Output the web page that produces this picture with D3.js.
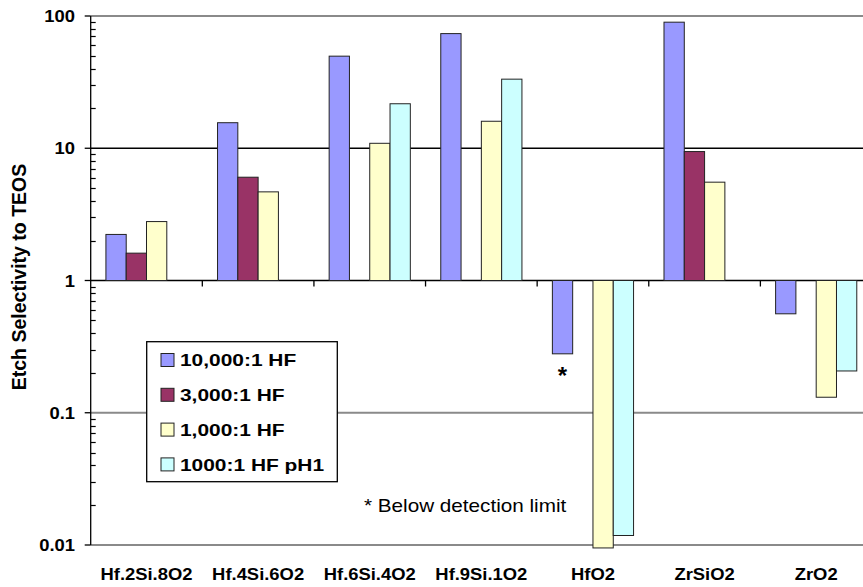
<!DOCTYPE html>
<html>
<head>
<meta charset="utf-8">
<script src="https://cdn.jsdelivr.net/npm/d3@7"></script>
<style>
  body { margin: 0; background: #fff; }
  svg { display: block; font-family: "Liberation Sans", Arial, sans-serif; }
</style>
</head>
<body>
<svg width="863" height="587"></svg>
<script>
// categories and series
const categories = ["Hf.2Si.8O2", "Hf.4Si.6O2", "Hf.6Si.4O2", "Hf.9Si.1O2", "HfO2", "ZrSiO2", "ZrO2"];
const seriesNames = ["10,000:1 HF", "3,000:1 HF", "1,000:1 HF", "1000:1 HF pH1"];
const seriesColors = ["#9999FF", "#993366", "#FFFFCC", "#CCFFFF"];

// values (null = no bar)
const hf10000 = [2.23, 15.6, 49.7, 73.6, 0.279, 89.8, 0.56];
const hf3000  = [1.61, 6.04, null, null, null, 9.44, null];
const hf1000  = [2.79, 4.68, 10.9, 16.0, 0.0095, 5.54, 0.131];
const hf1000pH1 = [null, null, 21.7, 33.3, 0.0118, null, 0.207];

const yTicks = [100, 10, 1, 0.1, 0.01];
const yTickLabels = ["100", "10", "1", "0.1", "0.01"];

const allSeries = [hf10000, hf3000, hf1000, hf1000pH1];

const svg = d3.select("svg");
const plotLeft = 90.7, plotRight = 872, plotTop = 16, plotBottom = 545;
const sx = 1.15; // horizontal stretch of the original text

const x = d3.scaleBand().domain(categories).range([plotLeft, plotRight]);
const xs = d3.scaleBand().domain(d3.range(4)).range([0, x.bandwidth()]).paddingOuter(0.75);
const y = d3.scaleLog().domain([0.01, 100]).range([plotBottom, plotTop]);

// gridlines
const gridColor = {100: "#8a8a8a", 10: "#000", 1: "#000", 0.1: "#8a8a8a", 0.01: "#8a8a8a"};
svg.append("g").selectAll("line").data(yTicks).join("line")
  .attr("x1", plotLeft).attr("x2", 863)
  .attr("y1", d => y(d)).attr("y2", d => y(d))
  .attr("stroke", d => gridColor[d])
  .attr("stroke-width", d => gridColor[d] === "#000" ? 1.3 : 2);

// bars
const bars = svg.append("g");
allSeries.forEach((vals, si) => {
  bars.selectAll(null).data(vals.map((v, i) => ({v, c: categories[i]})).filter(d => d.v != null))
    .join("rect")
    .attr("x", d => x(d.c) + xs(si))
    .attr("width", xs.bandwidth())
    .attr("y", d => Math.min(y(d.v), y(1)))
    .attr("height", d => Math.abs(y(d.v) - y(1)))
    .attr("fill", seriesColors[si])
    .attr("stroke", "#222")
    .attr("stroke-width", 1);
});

// y axis line
svg.append("line").attr("x1", plotLeft).attr("x2", plotLeft).attr("y1", plotTop).attr("y2", plotBottom)
  .attr("stroke", "#000").attr("stroke-width", 1.3);

// major ticks (outside) and minor ticks (inside)
svg.append("g").selectAll("line").data(yTicks).join("line")
  .attr("x1", plotLeft - 6).attr("x2", plotLeft)
  .attr("y1", d => y(d)).attr("y2", d => y(d))
  .attr("stroke", "#000").attr("stroke-width", 1.3);

const minor = y.ticks().filter(d => !yTicks.some(t => Math.abs(t - d) / t < 1e-6));
svg.append("g").selectAll("line").data(minor).join("line")
  .attr("x1", plotLeft).attr("x2", plotLeft + 5)
  .attr("y1", d => Math.round(y(d)) + 0.5).attr("y2", d => Math.round(y(d)) + 0.5)
  .attr("stroke", "#000").attr("stroke-width", 1.2);

// category ticks on the base line at 1
svg.append("g").selectAll("line").data(categories.slice(1)).join("line")
  .attr("x1", d => x(d)).attr("x2", d => x(d))
  .attr("y1", y(1)).attr("y2", y(1) + 6)
  .attr("stroke", "#000").attr("stroke-width", 1.3);

// y tick labels
svg.append("g").selectAll("text").data(yTicks).join("text")
  .attr("transform", d => `translate(75,${y(d) + 6}) scale(${sx},1)`)
  .attr("text-anchor", "end")
  .attr("font-size", 16).attr("font-weight", "bold")
  .text((d, i) => yTickLabels[i]);

// x labels
svg.append("g").selectAll("text").data(categories).join("text")
  .attr("transform", d => `translate(${x(d) + x.bandwidth() / 2},580) scale(${sx},1)`)
  .attr("text-anchor", "middle")
  .attr("font-size", 16).attr("font-weight", "bold")
  .text(d => d);

// y axis title
svg.append("text")
  .attr("transform", "translate(26,277) rotate(-90)")
  .attr("text-anchor", "middle")
  .attr("font-size", 19.5).attr("font-weight", "bold")
  .text("Etch Selectivity to TEOS");

// asterisk under HfO2 10,000:1 bar
svg.append("text")
  .attr("x", x("HfO2") + xs(0) + xs.bandwidth() / 2)
  .attr("y", y(hf10000[4]) + 30)
  .attr("text-anchor", "middle")
  .attr("font-size", 24).attr("font-weight", "bold")
  .text("*");

// note
svg.append("text")
  .attr("transform", `translate(364,511.5) scale(${sx},1)`)
  .attr("font-size", 18)
  .text("* Below detection limit");

// legend
const lg = svg.append("g");
lg.append("rect").attr("x", 146.7).attr("y", 341.7).attr("width", 190.6).attr("height", 140)
  .attr("fill", "#fff").attr("stroke", "#000").attr("stroke-width", 1.3);
const item = lg.selectAll("g").data(seriesNames).join("g")
  .attr("transform", (d, i) => `translate(161,${360 + i * 34.8})`);
item.append("rect").attr("x", 0).attr("y", -6.5).attr("width", 13).attr("height", 13)
  .attr("fill", (d, i) => seriesColors[i]).attr("stroke", "#222").attr("stroke-width", 1);
item.append("text")
  .attr("transform", "translate(19,6.2) scale(1.23,1)")
  .attr("font-size", 17).attr("font-weight", "bold")
  .text(d => d);
</script>
</body>
</html>
